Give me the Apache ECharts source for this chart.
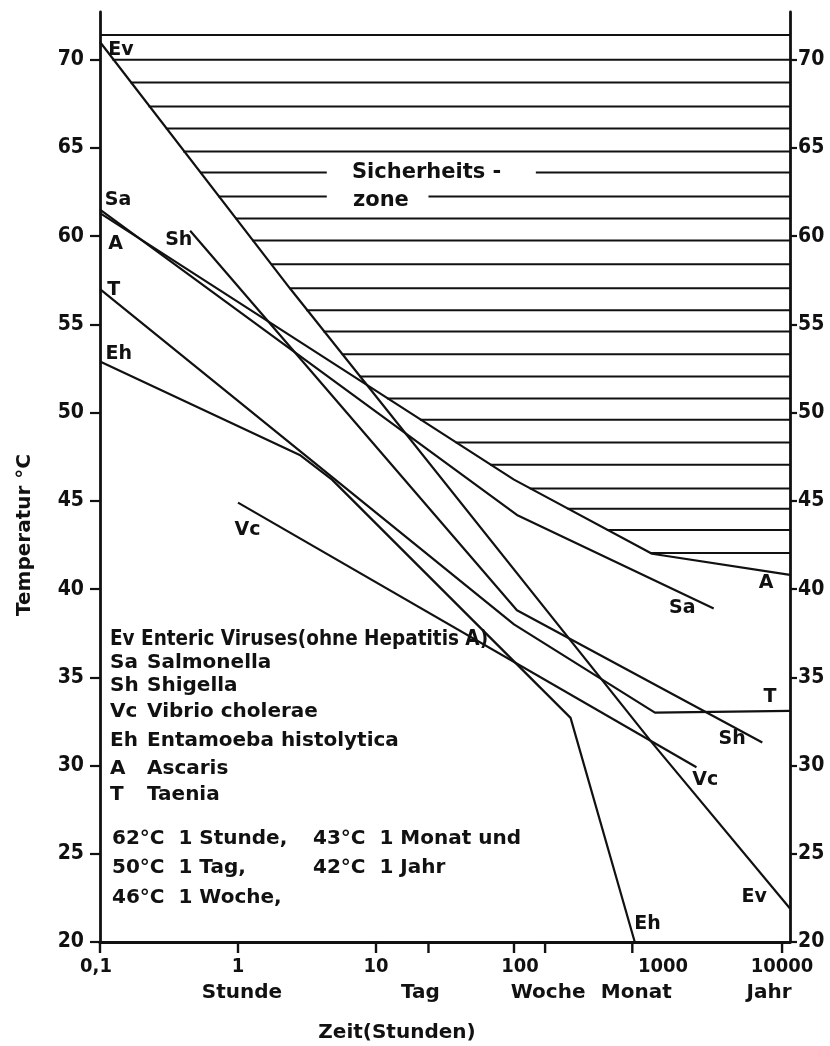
<!DOCTYPE html>
<html><head><meta charset="utf-8">
<script src="https://cdn.jsdelivr.net/npm/echarts@6/dist/echarts.min.js"></script>
<style>html,body{margin:0;padding:0;background:#fff}#c{width:830px;height:1046px}</style>
</head><body><div id="c"></div>
<script>
// ---------- data ----------
const yTicks = [20, 25, 30, 35, 40, 45, 50, 55, 60, 65, 70];
const xDecades = [0.1, 1, 10, 100, 1000, 10000];
const xDecadeLabels = ['0,1', '1', '10', '100', '1000', '10000'];
const xTickTimes = [0.1, 1, 10, 24, 100, 168, 720, 8760];
const unitTimes = [1, 24, 168, 720, 8760];
const unitLabels = ['Stunde', 'Tag', 'Woche', 'Monat', 'Jahr'];

// curves: [Zeit (Stunden), Temperatur °C]
const evData = [[0.1, 71.0], [2.4, 57.0], [1000, 31.3], [10000, 21.9]];
const saData = [[0.1, 61.5], [105, 44.2], [2800, 38.9]];
const shData = [[0.45, 60.3], [105, 38.8], [6300, 31.3]];
const vcData = [[1, 44.9], [2100, 29.9]];
const ehData = [[0.1, 52.9], [2.8, 47.6], [4.8, 46.2], [257, 32.7], [750, 20.0]];
const aData  = [[0.1, 61.3], [100, 46.2], [1000, 42.0], [10000, 40.8]];
const tData  = [[0.1, 57.0], [100, 38.0], [1050, 33.0], [10000, 33.1]];

// safety zone hatching
const hatchLevels = [71.4, 70.0, 68.7, 67.35, 66.1, 64.8, 63.6, 62.25, 61.0, 59.75, 58.4, 57.05,
  55.8, 54.6, 53.3, 52.05, 50.8, 49.6, 48.3, 47.05, 45.7, 44.55, 43.35, 42.05];
const hatchStarts = [0.1, 0.123, 0.166, 0.225, 0.3, 0.4, 0.53, 0.72, 0.96, 1.27, 1.73, 2.35,
  3.12, 4.15, 5.65, 7.6, 12.0, 20.8, 37.8, 67, 130, 244, 470, 965];
const hatchEnd = 10000;
const hatchGapLevels = [63.6, 62.25];
const hatchGapFrom = [4.4, 4.4];
const hatchGapTo = [144, 24];

// curve labels
const curveLabelText = ['Ev', 'Sa', 'A', 'Sh', 'T', 'Eh', 'Vc', 'A', 'Sa', 'T', 'Sh', 'Vc', 'Ev', 'Eh'];
const curveLabelTime = [0.142, 0.135, 0.13, 0.372, 0.126, 0.137, 1.17, 6710, 1660, 7170, 3810, 2430, 5500, 927];
const curveLabelTemp = [70.57, 62.06, 59.57, 59.8, 56.96, 53.33, 43.36, 40.35, 38.93, 33.89, 31.5, 29.18, 22.55, 21.02];

// legend texts
const legendCodes = ['Sa', 'Sh', 'Vc', 'Eh', 'A', 'T'];
const legendNames = ['Salmonella', 'Shigella', 'Vibrio cholerae', 'Entamoeba histolytica', 'Ascaris', 'Taenia'];
const legendFirst = 'Ev Enteric Viruses(ohne Hepatitis A)';
const rulesLeft = ['62°C  1 Stunde,', '50°C  1 Tag,', '46°C  1 Woche,'];
const rulesRight = ['43°C  1 Monat und', '42°C  1 Jahr'];

// ---------- styles ----------
const INK = '#111';
const FONT = '"DejaVu Sans", sans-serif';
const FONT_C = '"DejaVu Sans Condensed", "DejaVu Sans", sans-serif';
const decadeDx = [-4, 0, 0, 6, 11, -8];
const unitDx = [4, -8, 3, 4, -13];
const legendRowY = [663, 686, 712, 741, 769, 795];
const ruleRowY = [839, 868, 898];

// build hatch segments
const hatchSegs = [];
hatchLevels.forEach((lv, i) => {
  const g = hatchGapLevels.indexOf(lv);
  if (g >= 0) {
    hatchSegs.push([hatchStarts[i], hatchGapFrom[g], lv]);
    hatchSegs.push([hatchGapTo[g], hatchEnd, lv]);
  } else {
    hatchSegs.push([hatchStarts[i], hatchEnd, lv]);
  }
});

const chart = echarts.init(document.getElementById('c'), null, { renderer: 'canvas' });

function curve(name, data) {
  return {
    name, type: 'line', data, showSymbol: false, symbol: 'none', silent: true,
    lineStyle: { color: INK, width: 2.2 }, z: 3, animation: false
  };
}

const yAxisBase = {
  type: 'value', min: 20, max: 72.7, interval: 5,
  axisLine: { show: true, onZero: false, lineStyle: { color: INK, width: 2.8 } },
  splitLine: { show: false },
  axisTick: { show: true, length: 10, customValues: yTicks, lineStyle: { color: INK, width: 2.2 } },
  axisLabel: {
    customValues: yTicks, color: INK, fontSize: 21, fontWeight: 'bold', fontFamily: FONT_C,
    formatter: v => (Math.abs(v % 5) < 1e-6 ? String(v) : '')
  }
};

const B = 'bold ';
const legendGraphics = [];
legendGraphics.push({ type: 'text', x: 110, y: 640, style: { text: legendFirst, font: B + '20.5px ' + FONT_C, fill: INK, verticalAlign: 'middle' } });
legendCodes.forEach((c, i) => {
  legendGraphics.push({ type: 'text', x: 110, y: legendRowY[i], style: { text: c, font: B + '20px ' + FONT, fill: INK, verticalAlign: 'middle' } });
  legendGraphics.push({ type: 'text', x: 147, y: legendRowY[i], style: { text: legendNames[i], font: B + '20px ' + FONT, fill: INK, verticalAlign: 'middle' } });
});
rulesLeft.forEach((r, i) => {
  legendGraphics.push({ type: 'text', x: 112, y: ruleRowY[i], style: { text: r, font: B + '20px ' + FONT, fill: INK, verticalAlign: 'middle' } });
});
rulesRight.forEach((r, i) => {
  legendGraphics.push({ type: 'text', x: 313, y: ruleRowY[i], style: { text: r, font: B + '20px ' + FONT, fill: INK, verticalAlign: 'middle' } });
});
legendGraphics.push({ type: 'text', x: 397, y: 1033, style: { text: 'Zeit(Stunden)', font: B + '20px ' + FONT, fill: INK, align: 'center', verticalAlign: 'middle' } });
legendGraphics.push({ type: 'text', x: 25, y: 535, rotation: Math.PI / 2, style: { text: 'Temperatur °C', font: B + '20px ' + FONT, fill: INK, align: 'center', verticalAlign: 'middle' } });
legendGraphics.push({ type: 'text', x: 352, y: 173, style: { text: 'Sicherheits -', font: B + '21px ' + FONT, fill: INK, verticalAlign: 'middle' } });
legendGraphics.push({ type: 'text', x: 353, y: 201, style: { text: 'zone', font: B + '21px ' + FONT, fill: INK, verticalAlign: 'middle' } });

const option = {
  animation: false,
  backgroundColor: '#fff',
  grid: { left: 100, right: 40, top: 12, bottom: 104, containLabel: false },
  xAxis: {
    type: 'log', logBase: 10, min: 0.1, max: 10000,
    axisLine: { show: true, onZero: false, lineStyle: { color: INK, width: 3.2 } },
    axisTick: { show: false }, axisLabel: { show: false }, splitLine: { show: false }, minorTick: { show: false }
  },
  yAxis: [
    Object.assign({}, yAxisBase, { position: 'left', axisLabel: Object.assign({}, yAxisBase.axisLabel, { margin: 16 }) }),
    Object.assign({}, yAxisBase, {
      position: 'right',
      axisTick: Object.assign({}, yAxisBase.axisTick, { length: 7 }),
      axisLabel: Object.assign({}, yAxisBase.axisLabel, { margin: 8 })
    })
  ],
  graphic: legendGraphics,
  series: [
    {
      type: 'custom', name: 'hatch', silent: true, z: 2,
      data: hatchSegs, encode: { x: [0, 1], y: 2 },
      renderItem: (params, api) => {
        const p0 = api.coord([api.value(0), api.value(2)]);
        const p1 = api.coord([api.value(1), api.value(2)]);
        return { type: 'line', shape: { x1: p0[0], y1: p0[1], x2: p1[0], y2: p1[1] }, style: { stroke: INK, lineWidth: 2 } };
      }
    },
    curve('Ev', evData), curve('Sa', saData), curve('Sh', shData), curve('Vc', vcData),
    curve('Eh', ehData), curve('A', aData), curve('T', tData),
    {
      type: 'custom', name: 'xticks', silent: true, z: 4, clip: false,
      data: xTickTimes.map(t => [t, 20]),
      renderItem: (params, api) => {
        const p = api.coord([api.value(0), api.value(1)]);
        return { type: 'line', shape: { x1: p[0], y1: p[1], x2: p[0], y2: p[1] + 11 }, style: { stroke: INK, lineWidth: 2.4 } };
      }
    },
    {
      type: 'custom', name: 'xlabels', silent: true, z: 4, clip: false,
      data: xDecades.map(t => [t, 20]),
      renderItem: (params, api) => {
        const p = api.coord([api.value(0), api.value(1)]);
        return { type: 'text', x: p[0] + decadeDx[params.dataIndex], y: p[1] + 25,
          style: { text: xDecadeLabels[params.dataIndex], font: B + '20px ' + FONT_C, fill: INK, align: 'center', verticalAlign: 'middle' } };
      }
    },
    {
      type: 'custom', name: 'xunits', silent: true, z: 4, clip: false,
      data: unitTimes.map(t => [t, 20]),
      renderItem: (params, api) => {
        const p = api.coord([api.value(0), api.value(1)]);
        return { type: 'text', x: p[0] + unitDx[params.dataIndex], y: p[1] + 51,
          style: { text: unitLabels[params.dataIndex], font: B + '20px ' + FONT, fill: INK, align: 'center', verticalAlign: 'middle' } };
      }
    },
    {
      type: 'custom', name: 'curveLabels', silent: true, z: 5, clip: false,
      data: curveLabelTime.map((t, i) => [t, curveLabelTemp[i]]),
      renderItem: (params, api) => {
        const p = api.coord([api.value(0), api.value(1)]);
        return { type: 'text', x: p[0], y: p[1],
          style: { text: curveLabelText[params.dataIndex], font: B + '19px ' + FONT, fill: INK, align: 'center', verticalAlign: 'middle' } };
      }
    }
  ]
};
chart.setOption(option);
</script>
</body></html>
